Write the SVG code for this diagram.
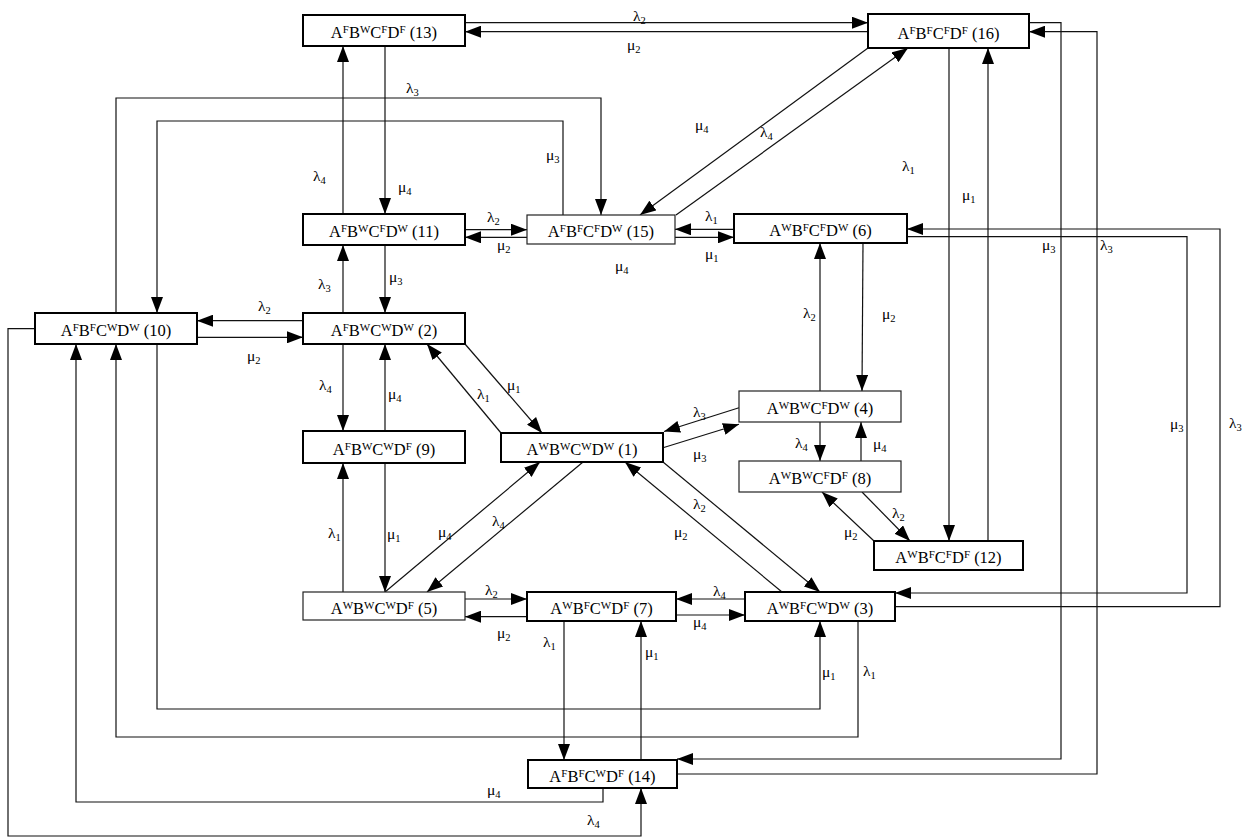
<svg xmlns="http://www.w3.org/2000/svg" width="1244" height="838" viewBox="0 0 1244 838">
<style>
.bx{fill:#fff;stroke:#000;stroke-width:2}
.bt{fill:#fff;stroke:#222;stroke-width:1.2}
.n{font-family:"Liberation Serif","Times New Roman",serif;font-size:16.5px;fill:#000;text-anchor:middle}
.s{font-size:11px}
.l{font-family:"Liberation Serif","Times New Roman",serif;font-size:15.5px;fill:#000}
.sb{font-size:10.5px}
.c path{fill:none;stroke:#111;stroke-width:1.2;marker-end:url(#ah)}
</style>
<defs>
<marker id="ah" markerUnits="userSpaceOnUse" markerWidth="16" markerHeight="12" viewBox="0 0 16 12" refX="16" refY="6" orient="auto"><path d="M0,0 L16,6 L0,12 z" fill="#000"/></marker>
</defs>
<rect width="1244" height="838" fill="#fff"/>
<g id="connectors" class="c">
<path d="M465,22.7 H868"/>
<path d="M868,31.7 H465"/>
<path d="M385,46 V214"/>
<path d="M343,214 V46"/>
<path d="M116,313 V98 H601 V215"/>
<path d="M563,215 V121 H157 V313"/>
<path d="M465,229.7 H527"/>
<path d="M527,237.3 H465"/>
<path d="M734,229.3 H675"/>
<path d="M675,237.3 H734"/>
<path d="M868,48 L640,215"/>
<path d="M676,215 L908,48"/>
<path d="M949,48 V541"/>
<path d="M988,541 V48"/>
<path d="M1029,22.7 H1061 V759 H677"/>
<path d="M677,774 H1097 V31.7 H1029"/>
<path d="M907,236.7 H1187 V593 H895"/>
<path d="M895,606.7 H1220 V229 H907"/>
<path d="M820,391 V243"/>
<path d="M863,243 L862,391"/>
<path d="M820,422 V461"/>
<path d="M861,461 V422"/>
<path d="M739,407.7 L664,431.5"/>
<path d="M663,447.7 L739,424.3"/>
<path d="M862,492 L910,541"/>
<path d="M874,541 L822,492"/>
<path d="M465,344 L542,433"/>
<path d="M501,433 L427,344"/>
<path d="M303,320.7 H197"/>
<path d="M197,337.3 H303"/>
<path d="M343,313 V245"/>
<path d="M385,245 V313"/>
<path d="M343,344 V431"/>
<path d="M385,431 V344"/>
<path d="M343,592 V463"/>
<path d="M385,463 V592"/>
<path d="M385,592 L540,462"/>
<path d="M583,462 L427,592"/>
<path d="M782,592 L625,462"/>
<path d="M663,462 L820,592"/>
<path d="M465,599 H527"/>
<path d="M527,616.7 H465"/>
<path d="M745,599 H676"/>
<path d="M676,615 H745"/>
<path d="M564,621 V760"/>
<path d="M641,760 V621"/>
<path d="M157,344 V709 H820 V621"/>
<path d="M858,621 V737 H116 V344"/>
<path d="M603,788 V802 H76 V344"/>
<path d="M35,328.7 H8 V836 H641 V788"/>
</g>
<g id="labels">
<text class="l" x="633" y="21">λ<tspan class="sb" dy="3">2</tspan></text>
<text class="l" x="627" y="50">μ<tspan class="sb" dy="3">2</tspan></text>
<text class="l" x="406" y="93">λ<tspan class="sb" dy="3">3</tspan></text>
<text class="l" x="313" y="181">λ<tspan class="sb" dy="3">4</tspan></text>
<text class="l" x="398" y="192">μ<tspan class="sb" dy="3">4</tspan></text>
<text class="l" x="546" y="160">μ<tspan class="sb" dy="3">3</tspan></text>
<text class="l" x="695" y="130">μ<tspan class="sb" dy="3">4</tspan></text>
<text class="l" x="760" y="137">λ<tspan class="sb" dy="3">4</tspan></text>
<text class="l" x="902" y="171">λ<tspan class="sb" dy="3">1</tspan></text>
<text class="l" x="962" y="200">μ<tspan class="sb" dy="3">1</tspan></text>
<text class="l" x="1042" y="250">μ<tspan class="sb" dy="3">3</tspan></text>
<text class="l" x="1100" y="250">λ<tspan class="sb" dy="3">3</tspan></text>
<text class="l" x="487" y="222">λ<tspan class="sb" dy="3">2</tspan></text>
<text class="l" x="497" y="250">μ<tspan class="sb" dy="3">2</tspan></text>
<text class="l" x="705" y="221">λ<tspan class="sb" dy="3">1</tspan></text>
<text class="l" x="705" y="259">μ<tspan class="sb" dy="3">1</tspan></text>
<text class="l" x="615" y="271">μ<tspan class="sb" dy="3">4</tspan></text>
<text class="l" x="318" y="289">λ<tspan class="sb" dy="3">3</tspan></text>
<text class="l" x="389" y="282">μ<tspan class="sb" dy="3">3</tspan></text>
<text class="l" x="258" y="311">λ<tspan class="sb" dy="3">2</tspan></text>
<text class="l" x="247" y="361">μ<tspan class="sb" dy="3">2</tspan></text>
<text class="l" x="319" y="390">λ<tspan class="sb" dy="3">4</tspan></text>
<text class="l" x="388" y="399">μ<tspan class="sb" dy="3">4</tspan></text>
<text class="l" x="328" y="538">λ<tspan class="sb" dy="3">1</tspan></text>
<text class="l" x="387" y="539">μ<tspan class="sb" dy="3">1</tspan></text>
<text class="l" x="477" y="399">λ<tspan class="sb" dy="3">1</tspan></text>
<text class="l" x="507" y="390">μ<tspan class="sb" dy="3">1</tspan></text>
<text class="l" x="803" y="318">λ<tspan class="sb" dy="3">2</tspan></text>
<text class="l" x="882" y="319">μ<tspan class="sb" dy="3">2</tspan></text>
<text class="l" x="693" y="417">λ<tspan class="sb" dy="3">3</tspan></text>
<text class="l" x="693" y="459">μ<tspan class="sb" dy="3">3</tspan></text>
<text class="l" x="795" y="448">λ<tspan class="sb" dy="3">4</tspan></text>
<text class="l" x="873" y="449">μ<tspan class="sb" dy="3">4</tspan></text>
<text class="l" x="892" y="518">λ<tspan class="sb" dy="3">2</tspan></text>
<text class="l" x="844" y="537">μ<tspan class="sb" dy="3">2</tspan></text>
<text class="l" x="693" y="509">λ<tspan class="sb" dy="3">2</tspan></text>
<text class="l" x="674" y="537">μ<tspan class="sb" dy="3">2</tspan></text>
<text class="l" x="438" y="537">μ<tspan class="sb" dy="3">4</tspan></text>
<text class="l" x="492" y="526">λ<tspan class="sb" dy="3">4</tspan></text>
<text class="l" x="485" y="595">λ<tspan class="sb" dy="3">2</tspan></text>
<text class="l" x="497" y="638">μ<tspan class="sb" dy="3">2</tspan></text>
<text class="l" x="713" y="596">λ<tspan class="sb" dy="3">4</tspan></text>
<text class="l" x="693" y="627">μ<tspan class="sb" dy="3">4</tspan></text>
<text class="l" x="543" y="647">λ<tspan class="sb" dy="3">1</tspan></text>
<text class="l" x="645" y="657">μ<tspan class="sb" dy="3">1</tspan></text>
<text class="l" x="822" y="677">μ<tspan class="sb" dy="3">1</tspan></text>
<text class="l" x="863" y="676">λ<tspan class="sb" dy="3">1</tspan></text>
<text class="l" x="487" y="795">μ<tspan class="sb" dy="3">4</tspan></text>
<text class="l" x="587" y="825">λ<tspan class="sb" dy="3">4</tspan></text>
<text class="l" x="1170" y="429">μ<tspan class="sb" dy="3">3</tspan></text>
<text class="l" x="1229" y="428">λ<tspan class="sb" dy="3">3</tspan></text>
</g>
<g id="node13"><rect class="bx" x="303" y="15" width="162" height="31"/><text class="n" x="384" y="38">A<tspan class="s" dy="-5">F</tspan><tspan dy="5">B</tspan><tspan class="s" dy="-5">W</tspan><tspan dy="5">C</tspan><tspan class="s" dy="-5">F</tspan><tspan dy="5">D</tspan><tspan class="s" dy="-5">F</tspan><tspan dy="5"> (13)</tspan></text></g>
<g id="node16"><rect class="bx" x="868" y="14" width="161" height="34"/><text class="n" x="948.5" y="38.5">A<tspan class="s" dy="-5">F</tspan><tspan dy="5">B</tspan><tspan class="s" dy="-5">F</tspan><tspan dy="5">C</tspan><tspan class="s" dy="-5">F</tspan><tspan dy="5">D</tspan><tspan class="s" dy="-5">F</tspan><tspan dy="5"> (16)</tspan></text></g>
<g id="node11"><rect class="bx" x="303" y="214" width="162" height="31"/><text class="n" x="384" y="237">A<tspan class="s" dy="-5">F</tspan><tspan dy="5">B</tspan><tspan class="s" dy="-5">W</tspan><tspan dy="5">C</tspan><tspan class="s" dy="-5">F</tspan><tspan dy="5">D</tspan><tspan class="s" dy="-5">W</tspan><tspan dy="5"> (11)</tspan></text></g>
<g id="node15"><rect class="bt" x="527" y="215" width="148" height="29"/><text class="n" x="601" y="237">A<tspan class="s" dy="-5">F</tspan><tspan dy="5">B</tspan><tspan class="s" dy="-5">F</tspan><tspan dy="5">C</tspan><tspan class="s" dy="-5">F</tspan><tspan dy="5">D</tspan><tspan class="s" dy="-5">W</tspan><tspan dy="5"> (15)</tspan></text></g>
<g id="node6"><rect class="bx" x="734" y="214" width="173" height="29"/><text class="n" x="820.5" y="236">A<tspan class="s" dy="-5">W</tspan><tspan dy="5">B</tspan><tspan class="s" dy="-5">F</tspan><tspan dy="5">C</tspan><tspan class="s" dy="-5">F</tspan><tspan dy="5">D</tspan><tspan class="s" dy="-5">W</tspan><tspan dy="5"> (6)</tspan></text></g>
<g id="node10"><rect class="bx" x="35" y="313" width="162" height="31"/><text class="n" x="116" y="336">A<tspan class="s" dy="-5">F</tspan><tspan dy="5">B</tspan><tspan class="s" dy="-5">F</tspan><tspan dy="5">C</tspan><tspan class="s" dy="-5">W</tspan><tspan dy="5">D</tspan><tspan class="s" dy="-5">W</tspan><tspan dy="5"> (10)</tspan></text></g>
<g id="node2"><rect class="bx" x="303" y="313" width="162" height="31"/><text class="n" x="384" y="336">A<tspan class="s" dy="-5">F</tspan><tspan dy="5">B</tspan><tspan class="s" dy="-5">W</tspan><tspan dy="5">C</tspan><tspan class="s" dy="-5">W</tspan><tspan dy="5">D</tspan><tspan class="s" dy="-5">W</tspan><tspan dy="5"> (2)</tspan></text></g>
<g id="node9"><rect class="bx" x="303" y="431" width="162" height="32"/><text class="n" x="384" y="454.5">A<tspan class="s" dy="-5">F</tspan><tspan dy="5">B</tspan><tspan class="s" dy="-5">W</tspan><tspan dy="5">C</tspan><tspan class="s" dy="-5">W</tspan><tspan dy="5">D</tspan><tspan class="s" dy="-5">F</tspan><tspan dy="5"> (9)</tspan></text></g>
<g id="node1"><rect class="bx" x="501" y="433" width="162" height="29"/><text class="n" x="582" y="455">A<tspan class="s" dy="-5">W</tspan><tspan dy="5">B</tspan><tspan class="s" dy="-5">W</tspan><tspan dy="5">C</tspan><tspan class="s" dy="-5">W</tspan><tspan dy="5">D</tspan><tspan class="s" dy="-5">W</tspan><tspan dy="5"> (1)</tspan></text></g>
<g id="node4"><rect class="bt" x="739" y="391" width="162" height="31"/><text class="n" x="820" y="414">A<tspan class="s" dy="-5">W</tspan><tspan dy="5">B</tspan><tspan class="s" dy="-5">W</tspan><tspan dy="5">C</tspan><tspan class="s" dy="-5">F</tspan><tspan dy="5">D</tspan><tspan class="s" dy="-5">W</tspan><tspan dy="5"> (4)</tspan></text></g>
<g id="node8"><rect class="bt" x="739" y="461" width="162" height="31"/><text class="n" x="820" y="484">A<tspan class="s" dy="-5">W</tspan><tspan dy="5">B</tspan><tspan class="s" dy="-5">W</tspan><tspan dy="5">C</tspan><tspan class="s" dy="-5">F</tspan><tspan dy="5">D</tspan><tspan class="s" dy="-5">F</tspan><tspan dy="5"> (8)</tspan></text></g>
<g id="node12"><rect class="bx" x="874" y="541" width="149" height="29"/><text class="n" x="948.5" y="563">A<tspan class="s" dy="-5">W</tspan><tspan dy="5">B</tspan><tspan class="s" dy="-5">F</tspan><tspan dy="5">C</tspan><tspan class="s" dy="-5">F</tspan><tspan dy="5">D</tspan><tspan class="s" dy="-5">F</tspan><tspan dy="5"> (12)</tspan></text></g>
<g id="node5"><rect class="bt" x="303" y="592" width="162" height="28"/><text class="n" x="384" y="614">A<tspan class="s" dy="-5">W</tspan><tspan dy="5">B</tspan><tspan class="s" dy="-5">W</tspan><tspan dy="5">C</tspan><tspan class="s" dy="-5">W</tspan><tspan dy="5">D</tspan><tspan class="s" dy="-5">F</tspan><tspan dy="5"> (5)</tspan></text></g>
<g id="node7"><rect class="bx" x="527" y="592" width="149" height="29"/><text class="n" x="601.5" y="614">A<tspan class="s" dy="-5">W</tspan><tspan dy="5">B</tspan><tspan class="s" dy="-5">F</tspan><tspan dy="5">C</tspan><tspan class="s" dy="-5">W</tspan><tspan dy="5">D</tspan><tspan class="s" dy="-5">F</tspan><tspan dy="5"> (7)</tspan></text></g>
<g id="node3"><rect class="bx" x="745" y="592" width="150" height="29"/><text class="n" x="820" y="614">A<tspan class="s" dy="-5">W</tspan><tspan dy="5">B</tspan><tspan class="s" dy="-5">F</tspan><tspan dy="5">C</tspan><tspan class="s" dy="-5">W</tspan><tspan dy="5">D</tspan><tspan class="s" dy="-5">W</tspan><tspan dy="5"> (3)</tspan></text></g>
<g id="node14"><rect class="bx" x="528" y="760" width="149" height="28"/><text class="n" x="602.5" y="781.5">A<tspan class="s" dy="-5">F</tspan><tspan dy="5">B</tspan><tspan class="s" dy="-5">F</tspan><tspan dy="5">C</tspan><tspan class="s" dy="-5">W</tspan><tspan dy="5">D</tspan><tspan class="s" dy="-5">F</tspan><tspan dy="5"> (14)</tspan></text></g>
</svg>
